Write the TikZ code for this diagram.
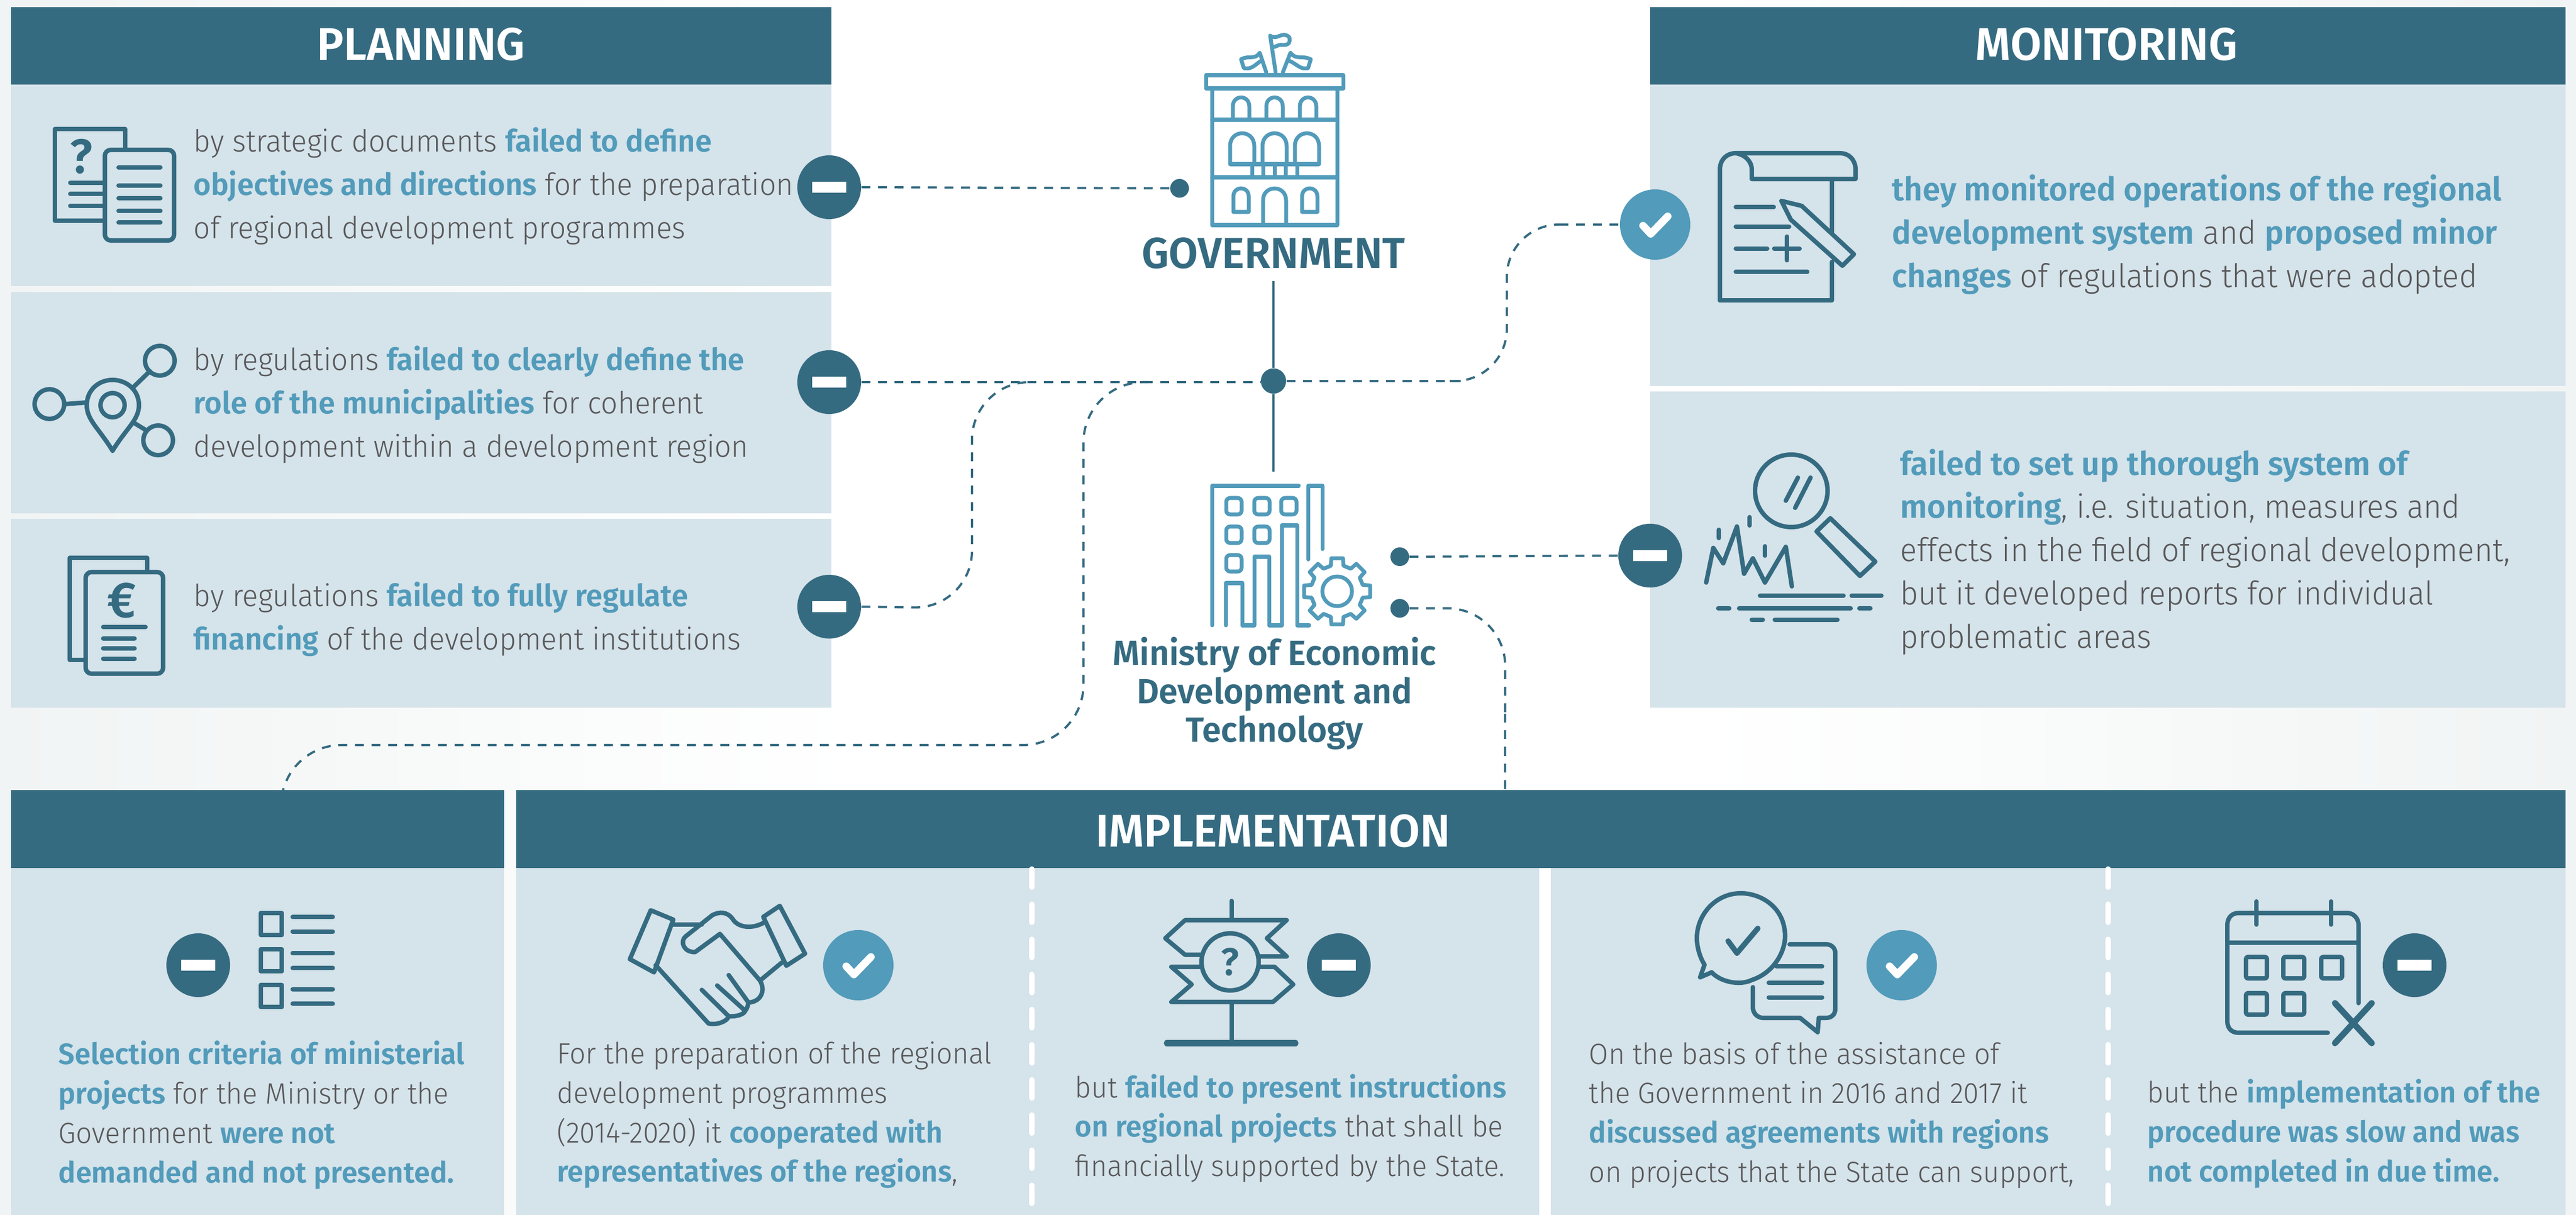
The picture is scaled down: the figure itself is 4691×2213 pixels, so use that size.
\documentclass[tikz,border=0pt]{standalone}
\usepackage{fontspec}
\setmainfont{Fira Sans Light}[BoldFont={Fira Sans SemiBold},FakeStretch=0.96,BoldFeatures={FakeStretch=0.98}]
\usetikzlibrary{calc}
\definecolor{dk}{HTML}{356B81}
\definecolor{lb}{HTML}{529BBA}
\definecolor{pan}{HTML}{D5E3EA}
\definecolor{txt}{HTML}{58585A}
\definecolor{bgl}{HTML}{F1F4F4}
\newcommand{\hl}[1]{{\bfseries\color{lb}#1}}
\newcommand{\minusbar}{\rule{.62cm}{.2cm}}
\tikzset{
  panel/.style={fill=pan,draw=none},
  head/.style={fill=dk,draw=none},
  headtext/.style={text=white,inner sep=0pt,font=\fontsize{23.7}{27}\selectfont\bfseries},
  bodytext/.style={text=txt,inner sep=0pt,align=left,anchor=west,font=\fontsize{15.8}{22.4}\selectfont},
  montext/.style={text=txt,inner sep=0pt,align=left,anchor=west,font=\fontsize{16.85}{22.4}\selectfont},
  impltext/.style={text=txt,inner sep=0pt,align=left,anchor=west,font=\fontsize{15.2}{20.4}\selectfont},
  actor/.style={text=dk,inner sep=0pt,align=center,font=\fontsize{22.4}{27}\selectfont\bfseries},
  actorb/.style={text=dk,inner sep=0pt,align=center,font=\fontsize{18.1}{19.8}\selectfont\bfseries},
  minusb/.style={circle,fill=dk,inner sep=0pt,minimum size=1.16cm,text=white},
  checkb/.style={circle,fill=lb,inner sep=0pt,minimum size=1.28cm,
    path picture={\draw[white,line width=3.9pt,line cap=round,line join=round]
      (path picture bounding box.center) ++(-22,2) -- ++(14,15) -- ++(31,-32);}},
  dot/.style={circle,fill=dk,inner sep=0pt,minimum size=.34cm},
  junction/.style={circle,fill=dk,inner sep=0pt,minimum size=.46cm},
  conn/.style={draw=dk,line width=1.15pt,dash pattern=on 4.6pt off 4pt},
  solidconn/.style={draw=dk,line width=1.15pt},
  ico/.style={draw=dk,line width=2.3pt,line cap=round,line join=round},
  icob/.style={draw=lb,line width=2pt,line cap=round,line join=round},
  sep/.style={draw=white,line width=2.9pt,line cap=round,dash pattern=on 9.3pt off 8.9pt},
}
\begin{document}
\begin{tikzpicture}[x=0.01cm,y=-0.01cm]
\useasboundingbox (0,0) rectangle (4691,2213);
\fill[white] (0,0) rectangle (4691,2213);
\shade[left color=bgl,right color=white] (0,0) rectangle (1560,2213);
\shade[left color=white,right color=bgl] (3100,0) rectangle (4691,2213);
% panels
\fill[head] (20,13) rectangle (1514,154);
\fill[panel] (20,154) rectangle (1514,521);
\fill[panel] (20,532) rectangle (1514,935);
\fill[panel] (20,945) rectangle (1514,1289);
\fill[head] (3005,13) rectangle (4672,154);
\fill[panel] (3005,154) rectangle (4672,703);
\fill[panel] (3005,713) rectangle (4672,1289);
\fill[head] (20,1439) rectangle (918,1581);
\fill[panel] (20,1581) rectangle (918,2213);
\fill[head] (940,1439) rectangle (4672,1581);
\fill[panel] (940,1581) rectangle (2803,2213);
\fill[panel] (2824,1581) rectangle (4672,2213);
\draw[sep] (1879,1583) -- (1879,2213);
\draw[sep] (3839,1583) -- (3839,2213);
% headers
\node[headtext] (hplan) at (767,81) {PLANNING};
\node[headtext] (hmon) at (3836,81) {MONITORING};
\node[headtext] (himp) at (2318,1514) {IMPLEMENTATION};
% planning text
\node[bodytext] (t1) at (352,339) {by strategic documents \hl{failed to define}\\\hl{objectives and directions} for the preparation\\of regional development programmes};
\node[bodytext] (t2) at (352,737) {by regulations \hl{failed to clearly define the}\\\hl{role of the municipalities} for coherent\\development within a development region};
\node[bodytext] (t3) at (352,1128) {by regulations \hl{failed to fully regulate}\\\hl{financing} of the development institutions};
% monitoring text
\node[montext] (t4) at (3445,427) {\hl{they monitored operations of the regional}\\\hl{development system} and \hl{proposed minor}\\\hl{changes} of regulations that were adopted};
\node[montext] (t5) at (3460,1005) {\hl{failed to set up thorough system of}\\\hl{monitoring}, i.e. situation, measures and\\effects in the field of regional development,\\but it developed reports for individual\\problematic areas};
% implementation text
\node[impltext] (t6) at (106,2031) {\hl{Selection criteria of ministerial}\\\hl{projects} for the Ministry or the\\Government \hl{were not}\\\hl{demanded and not presented.}};
\node[impltext] (t7) at (1014,2031) {For the preparation of the regional\\development programmes\\(2014-2020) it \hl{cooperated with}\\\hl{representatives of the regions},};
\node[impltext] (t8) at (1957,2055) {but \hl{failed to present instructions}\\\hl{on regional projects} that shall be\\financially supported by the State.};
\node[impltext] (t9) at (2893,2031) {On the basis of the assistance of\\the Government in 2016 and 2017 it\\\hl{discussed agreements with regions}\\on projects that the State can support,};
\node[impltext] (t10) at (3910,2065) {but the \hl{implementation of the}\\\hl{procedure was slow and was}\\\hl{not completed in due time.}};
% actors
\node[actor] (gov) at (2319,461) {GOVERNMENT};
\node[actorb] (min) at (2321,1263) {Ministry of Economic\\Development and\\Technology};
% badges & dots
\node[minusb] (b1) at (1510,341) {\minusbar};
\node[minusb] (b2) at (1510,696) {\minusbar};
\node[minusb] (b3) at (1510,1105) {\minusbar};
\node[checkb] (b4) at (3014,409) {};
\node[minusb] (b5) at (3005,1012) {\minusbar};
\node[minusb] (b6) at (361,1758) {\minusbar};
\node[checkb] (b7) at (1563,1758) {};
\node[minusb] (b8) at (2438,1758) {\minusbar};
\node[checkb] (b9) at (3463,1758) {};
\node[minusb] (b10) at (4397,1758) {\minusbar};
\node[dot] (d1) at (2148,343) {};
\node[junction] (j) at (2319,694) {};
\node[dot] (d2) at (2549,1014) {};
\node[dot] (d3) at (2549,1108) {};
\coordinate (gtop) at (2319,512);
\coordinate (mbot) at (2319,859);
\coordinate (m1) at (1870,696);
\coordinate (m2) at (2092,696);
\coordinate (c1) at (512,1439);
\coordinate (c2) at (2741,1439);
% connectors
\draw[solidconn] (gtop) -- (j);
\draw[solidconn] (j) -- (mbot);
\draw[conn] (b1.east) -- (d1.west);
\draw[conn] (b2.east) -- (b2.east -| j.west);
\draw[conn] (j.east) -- (2660,694);
\draw[conn,rounded corners=.95cm] (2640,694) -- (2744,694) -- (2744,409) -- (2840,409);
\draw[conn] (2840,409) -- (b4.west);
\draw[conn] (d2.east) -- (b5.west);
\draw[conn,rounded corners=1.05cm] (d3.east) -- (2741,1108) -- (2741,1300);
\draw[conn] (2741,1300) -- (c2);
\draw[conn,rounded corners=1.05cm] (b3.east) -- (1770,1108) -- (1770,696) -- (m1);
\draw[conn,rounded corners=1.1cm] (m2) -- (1973,696) -- (1973,1357) -- (512,1357) -- (c1);
% icon 1
\draw[ico] (191,402) -- (100,402) -- (100,235) -- (228,235) -- (228,272);
\draw[ico,rounded corners=3pt] (191,273) rectangle (317,438);
\foreach \y in {305,338,361,384,405} \draw[ico] (216,\y) -- (292,\y);
\foreach \y in {333,353,375} \draw[ico] (128,\y) -- (191,\y);
\node[text=dk,inner sep=0pt,font=\fontsize{25}{25}\selectfont\bfseries] (q1) at (148,285) {?};
% icon 2
\draw[ico] (291,657) circle[radius=27];
\draw[ico] (90,736) circle[radius=27];
\draw[ico] (288,802) circle[radius=27];
\draw[ico] (205,738) circle[radius=22];
\draw[ico] (205,821) .. controls (180,780) and (158,765) .. (158,738) .. controls (158,710) and (180,692) .. (205,692) .. controls (230,692) and (253,710) .. (253,738) .. controls (253,765) and (230,780) .. (205,821);
\draw[ico] (119,736) -- (158,733);
\draw[ico] (242,706) -- (273,676);
\draw[ico] (242,769) -- (265,783);
% icon 3
\draw[ico] (156,1202) -- (127,1202) -- (127,1016) -- (268,1016) -- (268,1042);
\draw[ico,rounded corners=3pt] (156,1042) rectangle (297,1227);
\node[text=dk,inner sep=0pt,font=\fontsize{26}{26}\selectfont\bfseries] (eur) at (222,1094) {€};
\draw[ico] (188,1142) -- (265,1142);
\foreach \y in {1163,1181,1200} \draw[ico] (188,\y) -- (245,\y);
% government icon
\draw[icob] (2196,137) rectangle (2446,161);
\draw[icob] (2207,161) rectangle (2435,410);
\draw[icob] (2207,218) -- (2435,218);
\draw[icob] (2207,323) -- (2435,323);
\foreach \x in {2260,2321,2382} \draw[icob] (\x-15,218) -- (\x-15,194) .. controls (\x-15,172) and (\x+15,172) .. (\x+15,194) -- (\x+15,218);
\foreach \x in {2262,2321,2380} \draw[icob] (\x-22,299) -- (\x-22,266) .. controls (\x-22,235) and (\x+22,235) .. (\x+22,266) -- (\x+22,299);
\draw[icob] (2241,299) -- (2401,299);
\foreach \x in {2280,2300,2321,2341,2362} \draw[icob] (\x,299) -- (\x,323);
\foreach \x in {2260,2385} \draw[icob] (\x-14,386) -- (\x-14,358) .. controls (\x-14,338) and (\x+14,338) .. (\x+14,358) -- (\x+14,386) -- cycle;
\draw[icob] (2300,410) -- (2300,365) .. controls (2300,336) and (2342,336) .. (2342,365) -- (2342,410);
\draw[icob] (2323,132) -- (2313,65) .. controls (2325,75) and (2335,55) .. (2348,68) .. controls (2350,80) and (2345,82) .. (2335,82) .. controls (2327,80) and (2322,88) .. (2316,85);
\draw[icob] (2306,132) -- (2294,96) .. controls (2285,110) and (2275,100) .. (2260,108) -- (2265,124) .. controls (2280,128) and (2288,115) .. (2298,110);
\draw[icob] (2336,132) -- (2350,96) .. controls (2360,110) and (2370,100) .. (2387,108) -- (2382,124) .. controls (2368,128) and (2360,115) .. (2346,110);
% ministry icon
\draw[icob] (2207,1139) -- (2207,885) -- (2365,885);
\draw[icob] (2382,1019) -- (2382,885) -- (2408,885) -- (2408,1000);
\foreach \x/\y in {2247/922,2298/922,2347/922,2247/974,2298/974,2247/1026} \draw[icob,rounded corners=2pt] (\x-14,\y-15) rectangle (\x+14,\y+15);
\draw[icob] (2232,1139) -- (2232,1062) -- (2262,1062) -- (2262,1139) -- (2284,1139) -- (2284,1014) -- (2311,1014) -- (2311,1139) -- (2334,1139) -- (2334,957) -- (2362,957) -- (2362,1139) -- (2384,1139);
\begin{scope}[shift={(2435,1077)}]
\draw[icob] (-14:48) \foreach \a in {0,45,...,315} { -- (\a-14:48) -- (\a-10:61) -- (\a+10:61) -- (\a+14:48)} -- cycle;
\draw[icob] (0,0) circle[radius=27];
\end{scope}
% monitoring icon 1
\draw[ico] (3132,547) -- (3132,309) .. controls (3132,290) and (3145,279) .. (3161,279) -- (3350,279) .. controls (3368,279) and (3379,292) .. (3379,309) -- (3379,326) -- (3190,326) -- (3190,309) .. controls (3190,292) and (3175,281) .. (3161,279);
\draw[ico] (3336,326) -- (3336,424);
\draw[ico] (3336,477) -- (3336,547) -- (3132,547);
\draw[ico] (3161,377) -- (3230,377);
\draw[ico] (3161,413) -- (3258,413);
\draw[ico] (3161,453) -- (3218,453);
\draw[ico] (3231,453) -- (3277,453);
\draw[ico] (3254,431) -- (3254,474);
\draw[ico] (3161,495) -- (3291,495);
\draw[ico] (3244,366) -- (3281,375) -- (3376,463) -- (3355,484) -- (3261,400) -- cycle;
% monitoring icon 2
\draw[ico] (3262,894) circle[radius=66];
\draw[ico] (3252,912) -- (3274,870);
\draw[ico] (3269,925) -- (3297,870);
\draw[ico] (3333,944) -- (3415,1023) -- (3387,1049) -- (3308,968) -- cycle;
\draw[ico] (3107,1061) -- (3120,998) -- (3138,1026) -- (3163,959) -- (3176,1045) -- (3192,1017) -- (3214,1061) -- (3252,996) -- (3263,1068);
\draw[ico] (3130,965) -- (3130,980);
\draw[ico] (3186,942) -- (3186,957);
\draw[ico] (3214,995) -- (3214,1012);
\foreach \a/\b/\y in {3205/3357/1085,3372/3426/1085,3129/3149/1108,3167/3370/1108,3386/3406/1108,3190/3210/1129,3232/3346/1129} \draw[ico] (\a,\y) -- (\b,\y);
% impl icon 1
\foreach \y in {1663,1729,1794} \draw[ico] (475,\y) rectangle (513,\y+40);
\foreach \y in {1670,1697,1736,1763,1802,1828} \draw[ico] (533,\y) -- (606,\y);
% handshake
\draw[ico] (1185,1658) -- (1226,1675) -- (1191,1771) -- (1147,1747) -- cycle;
\draw[ico] (1420,1650) -- (1390,1670) -- (1432,1759) -- (1466,1737) -- cycle;
\draw[ico] (1224,1684) -- (1278,1684);
\draw[ico] (1390,1681) .. controls (1370,1692) and (1345,1690) .. (1335,1675) .. controls (1325,1660) and (1310,1660) .. (1297,1667) -- (1248,1706) .. controls (1238,1715) and (1245,1735) .. (1266,1734) -- (1311,1701) -- (1384,1786) .. controls (1395,1805) and (1385,1825) .. (1363,1826) -- (1327,1776);
\draw[ico] (1384,1786) -- (1424,1753);
\draw[ico] (1194,1758) -- (1290,1864) .. controls (1305,1868) and (1325,1860) .. (1327,1851) -- (1278,1803);
\draw[ico] (1327,1851) .. controls (1340,1852) and (1355,1848) .. (1357,1841) -- (1306,1795);
\draw[ico] (1357,1841) .. controls (1360,1838) and (1362,1832) .. (1363,1826);
% signpost
\draw[ico] (2243,1641) -- (2243,1676);
\draw[ico] (2243,1825) -- (2243,1900);
\draw[ico,line width=3.2pt] (2125,1900) -- (2359,1900);
\draw[ico] (2187,1739) -- (2158,1739) -- (2122,1709) -- (2158,1676) -- (2343,1676) -- (2307,1709) -- (2343,1742) -- (2292,1742);
\draw[ico] (2187,1761) -- (2133,1761) -- (2170,1793) -- (2133,1825) -- (2318,1825) -- (2355,1793) -- (2321,1761) -- (2294,1761);
\draw[ico] (2240,1752) circle[radius=52];
\node[text=dk,inner sep=0pt,font=\fontsize{20}{20}\selectfont\bfseries] (q2) at (2240,1752) {?};
% speech
\draw[ico] (3104,1757) -- (3096,1780) -- (3117,1771) .. controls (3135,1790) and (3170,1795) .. (3190,1785) .. controls (3235,1770) and (3255,1725) .. (3250,1695) .. controls (3245,1650) and (3205,1627) .. (3170,1627) .. controls (3125,1627) and (3090,1665) .. (3090,1709) .. controls (3090,1725) and (3096,1745) .. (3104,1757);
\draw[ico,line width=2.8pt] (3147,1714) -- (3163,1736) -- (3201,1691);
\draw[ico] (3259,1720) -- (3326,1720) .. controls (3336,1720) and (3342,1728) .. (3342,1735) -- (3342,1838) .. controls (3342,1848) and (3335,1854) .. (3325,1854) -- (3312,1854) -- (3310,1880) -- (3278,1854) -- (3211,1854) .. controls (3200,1854) and (3192,1845) .. (3192,1835) -- (3192,1798);
\draw[ico] (3235,1760) -- (3318,1760);
\draw[ico] (3221,1790) -- (3318,1790);
\draw[ico] (3221,1817) -- (3318,1817);
% calendar
\draw[ico] (4295,1827) -- (4295,1685) .. controls (4295,1672) and (4285,1663) .. (4275,1663) -- (4076,1663) .. controls (4064,1663) and (4056,1672) .. (4056,1685) -- (4056,1860) .. controls (4056,1873) and (4064,1881) .. (4076,1881) -- (4239,1881);
\draw[ico] (4056,1717) -- (4295,1717);
\draw[ico] (4109,1642) -- (4109,1684);
\draw[ico] (4245,1642) -- (4245,1684);
\foreach \x/\y in {4090/1743,4158/1743,4227/1743,4090/1809,4158/1809} \draw[ico,rounded corners=1pt] (\x,\y) rectangle (\x+38,\y+39);
\draw[ico,line width=3.2pt] (4252,1827) -- (4319,1900);
\draw[ico,line width=3.2pt] (4319,1827) -- (4252,1900);
\end{tikzpicture}
\end{document}
